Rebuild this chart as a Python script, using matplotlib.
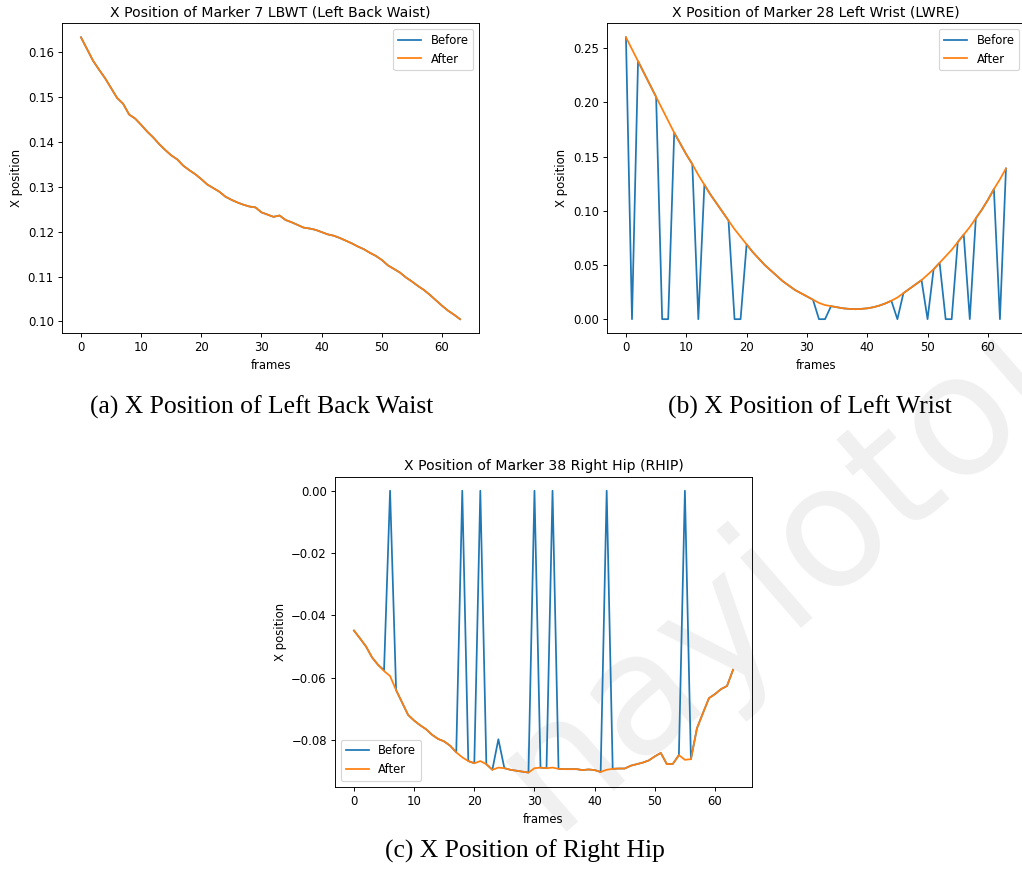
import matplotlib
matplotlib.use('Agg')
import matplotlib.pyplot as plt

# --- data ---
frames = list(range(64))

waist_after = [
	0.1633, 0.1607, 0.1581, 0.1561, 0.1542, 0.1520, 0.1498, 0.1485,
	0.1461, 0.1452, 0.1438, 0.1423, 0.1410, 0.1395, 0.1382, 0.1370,
	0.1361, 0.1347, 0.1337, 0.1328, 0.1317, 0.1305, 0.1297, 0.1289,
	0.1278, 0.1271, 0.1265, 0.1260, 0.1256, 0.1254, 0.1243, 0.1238,
	0.1233, 0.1236, 0.1226, 0.1221, 0.1215, 0.1209, 0.1207, 0.1204,
	0.1199, 0.1194, 0.1191, 0.1186, 0.1180, 0.1174, 0.1167, 0.1161,
	0.1153, 0.1146, 0.1137, 0.1125, 0.1117, 0.1109, 0.1098, 0.1089,
	0.1079, 0.1070, 0.1059, 0.1047, 0.1035, 0.1024, 0.1015, 0.1005,
]
# no gaps for this marker: before and after are the same
waist_before = list(waist_after)

wrist_after = [
	0.260, 0.249, 0.238, 0.227, 0.216, 0.205, 0.194, 0.183,
	0.172, 0.162, 0.152, 0.143, 0.133, 0.124, 0.115, 0.107,
	0.099, 0.091, 0.083, 0.076, 0.069, 0.062, 0.056, 0.050,
	0.045, 0.040, 0.035, 0.031, 0.027, 0.024, 0.021, 0.018,
	0.015, 0.013, 0.012, 0.011, 0.010, 0.0095, 0.0092, 0.0095,
	0.010, 0.011, 0.0125, 0.0145, 0.017, 0.020, 0.024, 0.028,
	0.032, 0.036, 0.041, 0.046, 0.052, 0.058, 0.064, 0.071,
	0.078, 0.085, 0.093, 0.101, 0.110, 0.120, 0.129, 0.139,
]
wrist_before = [
	0.260, 0.0, 0.238, 0.227, 0.216, 0.205, 0.0, 0.0,
	0.172, 0.162, 0.152, 0.143, 0.0, 0.124, 0.115, 0.107,
	0.099, 0.091, 0.0, 0.0, 0.069, 0.062, 0.056, 0.050,
	0.045, 0.040, 0.035, 0.031, 0.027, 0.024, 0.021, 0.018,
	0.0, 0.0, 0.012, 0.011, 0.010, 0.0095, 0.0092, 0.0095,
	0.010, 0.011, 0.0125, 0.0145, 0.017, 0.0, 0.024, 0.028,
	0.032, 0.036, 0.0, 0.046, 0.052, 0.0, 0.0, 0.071,
	0.078, 0.0, 0.093, 0.101, 0.110, 0.120, 0.0, 0.139,
]

hip_after = [
	-0.0449, -0.0474, -0.0500, -0.0535, -0.0559, -0.0579, -0.0595, -0.0640,
	-0.0680, -0.0720, -0.0738, -0.0753, -0.0766, -0.0784, -0.0797, -0.0805,
	-0.0819, -0.0840, -0.0856, -0.0868, -0.0875, -0.0868, -0.0878, -0.0896,
	-0.0889, -0.0891, -0.0896, -0.0899, -0.0902, -0.0905, -0.0891, -0.0889,
	-0.0891, -0.0889, -0.0893, -0.0894, -0.0894, -0.0894, -0.0897, -0.0895,
	-0.0897, -0.0903, -0.0896, -0.0893, -0.0892, -0.0892, -0.0883, -0.0878,
	-0.0873, -0.0866, -0.0853, -0.0842, -0.0878, -0.0877, -0.0849, -0.0864,
	-0.0862, -0.0763, -0.0714, -0.0666, -0.0653, -0.0637, -0.0627, -0.0575,
]
hip_before = [
	-0.0449, -0.0474, -0.0500, -0.0535, -0.0559, -0.0576, 0.0, -0.0640,
	-0.0680, -0.0720, -0.0738, -0.0753, -0.0766, -0.0784, -0.0797, -0.0805,
	-0.0819, -0.0840, 0.0, -0.0868, -0.0875, 0.0, -0.0878, -0.0896,
	-0.0798, -0.0891, -0.0896, -0.0899, -0.0902, -0.0905, 0.0, -0.0889,
	-0.0891, 0.0, -0.0893, -0.0894, -0.0894, -0.0894, -0.0897, -0.0895,
	-0.0897, -0.0903, 0.0, -0.0893, -0.0892, -0.0892, -0.0883, -0.0878,
	-0.0873, -0.0866, -0.0853, -0.0842, -0.0878, -0.0877, -0.0849, 0.0,
	-0.0862, -0.0763, -0.0714, -0.0666, -0.0653, -0.0637, -0.0627, -0.0575,
]

panels = [
	('X Position of Marker 7 LBWT (Left Back Waist)', waist_before, waist_after, 'upper right'),
	('X Position of Marker 28 Left Wrist (LWRE)', wrist_before, wrist_after, 'upper right'),
	('X Position of Marker 38 Right Hip (RHIP)', hip_before, hip_after, 'lower left'),
]
captions = [
	'(a) X Position of Left Back Waist',
	'(b) X Position of Left Wrist',
	'(c) X Position of Right Hip',
]

DPI = 84
fig = plt.figure(figsize=(1022 / DPI, 877 / DPI), dpi=DPI)

# axes boxes in figure fractions (left, bottom, width, height)
boxes = [
	[0.0607, 0.6200, 0.4080, 0.3535],
	[0.5939, 0.6200, 0.4090, 0.3535],
	[0.3278, 0.1030, 0.4080, 0.3535],
]

# faint watermark behind everything (the visible part of it)
fig.text(0.782, 0.368, 'nayiotou', fontsize=145, color='#f0f0f0',
	rotation=41, ha='center', va='center', rotation_mode='anchor', zorder=-1)

for (title, before, after, loc), box in zip(panels, boxes):
	ax = fig.add_axes(box)
	ax.set_facecolor('none')
	ax.plot(frames, before, color='tab:blue', label='Before')
	ax.plot(frames, after, color='tab:orange', label='After')
	ax.set_title(title)
	ax.set_xlabel('frames')
	ax.set_ylabel('X position')
	ax.legend(loc=loc)

cap_pos = [(262, 407), (810, 407), (525, 851)]
for text, (px, py) in zip(captions, cap_pos):
	fig.text(px / 1022, 1 - py / 877, text, fontsize=22, family='Liberation Serif',
		ha='center', va='center')

fig.savefig('out.png', dpi=DPI)
